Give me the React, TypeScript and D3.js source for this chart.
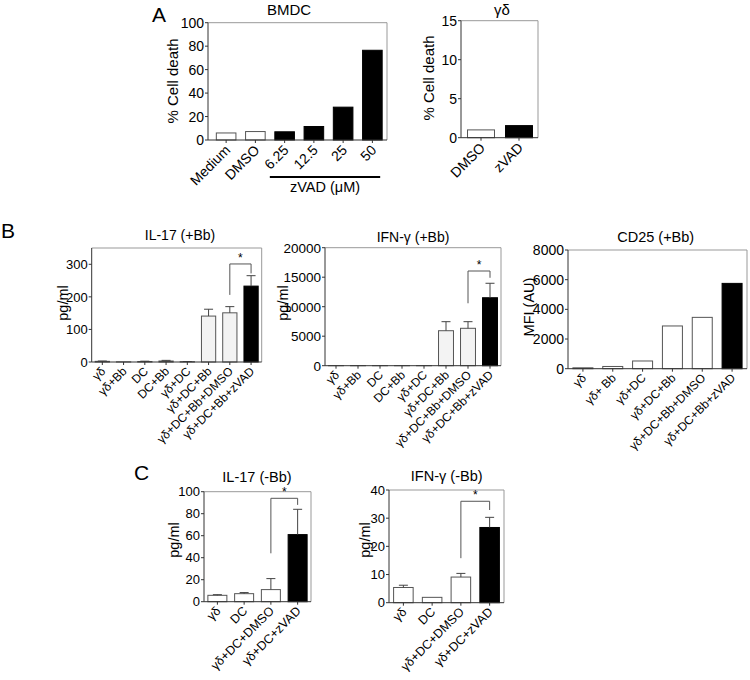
import React from "react";
import * as d3 from "d3";

const FONT = "'Liberation Sans', Arial, Helvetica, sans-serif";

// ---- Panel A : BMDC ----
const bmdcCategories = ["Medium", "DMSO", "6.25", "12.5", "25", "50"];
const bmdcValues = [6, 7.2, 7, 11.5, 28, 76.5];
const bmdcTicks = [0, 20, 40, 60, 80, 100];
const bmdcZvad = ["6.25", "12.5", "25", "50"];

// ---- Panel A : γδ ----
const gdCategories = ["DMSO", "zVAD"];
const gdValues = [1.0, 1.55];
const gdTicks = [0, 5, 10, 15];

// ---- Panel B ----
const bCategories = ["γδ", "γδ+Bb", "DC", "DC+Bb", "γδ+DC", "γδ+DC+Bb", "γδ+DC+Bb+DMSO", "γδ+DC+Bb+zVAD"];
const il17BbValues = [2, 0.5, 1.5, 3, 1, 141, 151, 233];
const il17BbErrors = [1, 0, 1, 2, 0.5, 21, 19, 32];
const il17BbTicks = [0, 100, 200, 300];
const ifnBbValues = [0, 0, 0, 0, 0, 5930, 6340, 11520];
const ifnBbErrors = [0, 0, 0, 0, 0, 1530, 1120, 2450];
const ifnBbTicks = [0, 5000, 10000, 15000, 20000];
const cd25Categories = ["γδ", "γδ+ Bb", "γδ+DC", "γδ+DC+Bb", "γδ+DC+Bb+DMSO", "γδ+DC+Bb+zVAD"];
const cd25Values = [60, 150, 520, 2880, 3460, 5750];
const cd25Ticks = [0, 2000, 4000, 6000, 8000];

// ---- Panel C ----
const cCategories = ["γδ", "DC", "γδ+DC+DMSO", "γδ+DC+zVAD"];
const il17NoBbValues = [5.8, 7.3, 11, 61];
const il17NoBbErrors = [0.6, 1, 10, 23];
const il17NoBbTicks = [0, 20, 40, 60, 80, 100];
const ifnNoBbValues = [5.4, 1.9, 9.1, 26.7];
const ifnNoBbErrors = [0.8, 0, 1.3, 3.6];
const ifnNoBbTicks = [0, 10, 20, 30, 40];

// significance brackets: [fromCategoryIndex, toCategoryIndex, top, leftBottom, rightBottom]
const il17BbBracket = [6, 7, 301, 206, 272];
const ifnBbBracket = [6, 7, 16050, 10580, 14900];
const il17NoBbBracket = [2, 3, 94, 44, 88];
const ifnNoBbBracket = [2, 3, 36, 15.8, 32.9];

type PanelProps = {
  x0: number; x1: number; yTop: number; yBottom: number;
  bandStart?: number; bandEnd?: number; padding: number;
  max: number; ticks: number[];
  categories: string[]; values: number[]; errors?: number[];
  isBlack: (c: string, i: number) => boolean;
  lightFill?: string;
  tickFont: number; labelFont: number;
  labelDx: number; labelDy: number;
  title: string; titleX: number; titleY: number; titleFont: number;
  ylabel: string; ylabelX: number; ylabelY: number; ylabelFont: number;
  bracket?: number[];
};

function BarPanel(p: PanelProps) {
  const x = d3.scaleBand<string>()
    .domain(p.categories)
    .range([p.bandStart ?? p.x0, p.bandEnd ?? p.x1])
    .paddingInner(p.padding)
    .paddingOuter(p.padding / 2);
  const y = d3.scaleLinear().domain([0, p.max]).range([p.yBottom, p.yTop]);
  const bw = x.bandwidth();
  const cx = (c: string) => (x(c) as number) + bw / 2;
  const fmt = d3.format("d");

  let bracketEl: React.ReactNode = null;
  if (p.bracket) {
    const [fi, ti, top, lb, rb] = p.bracket;
    const xl = cx(p.categories[fi]);
    const xr = cx(p.categories[ti]);
    const path = d3.path();
    path.moveTo(xl, y(lb));
    path.lineTo(xl, y(top));
    path.lineTo(xr, y(top));
    path.lineTo(xr, y(rb));
    bracketEl = (
      <g>
        <path d={path.toString()} fill="none" stroke="#555" strokeWidth={1} />
        <text x={(xl + xr) / 2} y={y(top) - 2} textAnchor="middle" fontSize={12} fontFamily={FONT}>*</text>
      </g>
    );
  }

  return (
    <g>
      <line x1={p.x0} x2={p.x1} y1={p.yTop} y2={p.yTop} stroke="#999" strokeWidth={1} />
      <line x1={p.x1} x2={p.x1} y1={p.yTop} y2={p.yBottom} stroke="#999" strokeWidth={1} />
      {p.categories.map((c, i) => {
        const v = p.values[i];
        const black = p.isBlack(c, i);
        const h = p.yBottom - y(v);
        return (
          <rect key={c} x={x(c)} y={y(v)} width={bw} height={Math.max(h, 0.01)}
            fill={black ? "#000" : (p.lightFill ?? "#fff")}
            stroke={black ? "#000" : "#555"} strokeWidth={1} />
        );
      })}
      {p.errors && p.categories.map((c, i) => {
        const e = p.errors![i];
        if (!e) return null;
        const v = p.values[i];
        const xc = cx(c);
        return (
          <g key={"e" + c} stroke="#444" strokeWidth={1}>
            <line x1={xc} x2={xc} y1={y(v)} y2={y(v + e)} />
            <line x1={xc - 4.5} x2={xc + 4.5} y1={y(v + e)} y2={y(v + e)} />
          </g>
        );
      })}
      {bracketEl}
      <line x1={p.x0} x2={p.x0} y1={p.yTop} y2={p.yBottom} stroke="#333" strokeWidth={1} />
      {p.ticks.map((t) => (
        <g key={"t" + t}>
          <line x1={p.x0 - 3} x2={p.x0} y1={y(t)} y2={y(t)} stroke="#333" />
          <text x={p.x0 - 4} y={y(t)} dy="0.36em" textAnchor="end" fontSize={p.tickFont} fontFamily={FONT}>{fmt(t)}</text>
        </g>
      ))}
      <line x1={p.x0} x2={p.x1} y1={p.yBottom} y2={p.yBottom} stroke="#333" strokeWidth={1} />
      {p.categories.map((c) => (
        <g key={"x" + c}>
          <line x1={cx(c)} x2={cx(c)} y1={p.yBottom} y2={p.yBottom + 3} stroke="#333" />
          <text transform={`translate(${cx(c) + p.labelDx},${p.yBottom + p.labelDy}) rotate(-45)`}
            textAnchor="end" fontSize={p.labelFont} fontFamily={FONT}>{c}</text>
        </g>
      ))}
      <text x={p.titleX} y={p.titleY} textAnchor="middle" fontSize={p.titleFont} fontFamily={FONT}>{p.title}</text>
      <text transform={`translate(${p.ylabelX + p.ylabelFont * 0.36},${p.ylabelY}) rotate(-90)`}
        textAnchor="middle" fontSize={p.ylabelFont} fontFamily={FONT}>{p.ylabel}</text>
    </g>
  );
}

export default function App() {
  const bx = d3.scaleBand<string>().domain(bmdcCategories).range([211.5, 387]).paddingInner(0.33).paddingOuter(0.165);
  const zFirst = (bx(bmdcZvad[0]) as number);
  const zLast = (bx(bmdcZvad[bmdcZvad.length - 1]) as number) + bx.bandwidth();
  return (
    <svg width={750} height={680} style={{ position: "absolute", left: 0, top: 0, background: "#fff" }}>
      <rect x={0} y={0} width={750} height={680} fill="#fff" />
      <text x={152} y={22} fontSize={21} fontFamily={FONT}>A</text>
      <text x={1} y={238} fontSize={21} fontFamily={FONT}>B</text>
      <text x={134} y={480} fontSize={21} fontFamily={FONT}>C</text>

      <BarPanel x0={208} x1={387} yTop={22.7} yBottom={140} bandStart={211.5} bandEnd={387} padding={0.33}
        max={100} ticks={bmdcTicks} categories={bmdcCategories} values={bmdcValues}
        isBlack={(c) => bmdcZvad.includes(c)} tickFont={14} labelFont={14} labelDx={5} labelDy={11}
        title="BMDC" titleX={289} titleY={15} titleFont={15}
        ylabel="% Cell death" ylabelX={173} ylabelY={81} ylabelFont={15} />
      <line x1={zFirst - 5} x2={zLast - 2} y1={177} y2={177} stroke="#000" strokeWidth={2} />
      <text x={325} y={192} textAnchor="middle" fontSize={14.5} fontFamily={FONT}>zVAD (μM)</text>

      <BarPanel x0={461} x1={538} yTop={20.7} yBottom={137.7} bandStart={462} bandEnd={538} padding={0.29}
        max={15} ticks={gdTicks} categories={gdCategories} values={gdValues}
        isBlack={(c) => c === "zVAD"} tickFont={14} labelFont={14} labelDx={5} labelDy={11}
        title="γδ" titleX={502} titleY={15} titleFont={15}
        ylabel="% Cell death" ylabelX={429} ylabelY={78} ylabelFont={15} />

      <BarPanel x0={91.7} x1={261.7} yTop={248} yBottom={362} padding={0.33}
        max={350} ticks={il17BbTicks} categories={bCategories} values={il17BbValues} errors={il17BbErrors}
        isBlack={(c) => c.includes("zVAD")} lightFill="#f3f3f3" tickFont={13} labelFont={12} labelDx={4} labelDy={10}
        title="IL-17 (+Bb)" titleX={180} titleY={240} titleFont={14}
        ylabel="pg/ml" ylabelX={62.5} ylabelY={303} ylabelFont={14.5}
        bracket={il17BbBracket} />

      <BarPanel x0={325} x1={501} yTop={247.7} yBottom={365.7} padding={0.32}
        max={20000} ticks={ifnBbTicks} categories={bCategories} values={ifnBbValues} errors={ifnBbErrors}
        isBlack={(c) => c.includes("zVAD")} lightFill="#f3f3f3" tickFont={13.5} labelFont={12} labelDx={4} labelDy={10}
        title="IFN-γ (+Bb)" titleX={413} titleY={241.7} titleFont={14}
        ylabel="pg/ml" ylabelX={282.5} ylabelY={303} ylabelFont={14.5}
        bracket={ifnBbBracket} />

      <BarPanel x0={568} x1={747} yTop={250} yBottom={368.7} padding={0.33}
        max={8000} ticks={cd25Ticks} categories={cd25Categories} values={cd25Values}
        isBlack={(c) => c.includes("zVAD")} tickFont={14} labelFont={12} labelDx={4} labelDy={10}
        title="CD25 (+Bb)" titleX={655.7} titleY={242} titleFont={14.5}
        ylabel="MFI (AU)" ylabelX={529} ylabelY={307} ylabelFont={14.5} />

      <BarPanel x0={204} x1={311} yTop={491.7} yBottom={601.7} padding={0.29}
        max={100} ticks={il17NoBbTicks} categories={cCategories} values={il17NoBbValues} errors={il17NoBbErrors}
        isBlack={(c) => c.includes("zVAD")} tickFont={13} labelFont={12.5} labelDx={4} labelDy={10}
        title="IL-17 (-Bb)" titleX={257} titleY={482} titleFont={14.5}
        ylabel="pg/ml" ylabelX={174} ylabelY={540} ylabelFont={14.5}
        bracket={il17NoBbBracket} />

      <BarPanel x0={389} x1={504} yTop={490} yBottom={602.7} padding={0.32}
        max={40} ticks={ifnNoBbTicks} categories={cCategories} values={ifnNoBbValues} errors={ifnNoBbErrors}
        isBlack={(c) => c.includes("zVAD")} tickFont={13} labelFont={12.5} labelDx={4} labelDy={10}
        title="IFN-γ (-Bb)" titleX={446.7} titleY={480.7} titleFont={14.5}
        ylabel="pg/ml" ylabelX={365} ylabelY={540} ylabelFont={14.5}
        bracket={ifnNoBbBracket} />
    </svg>
  );
}
